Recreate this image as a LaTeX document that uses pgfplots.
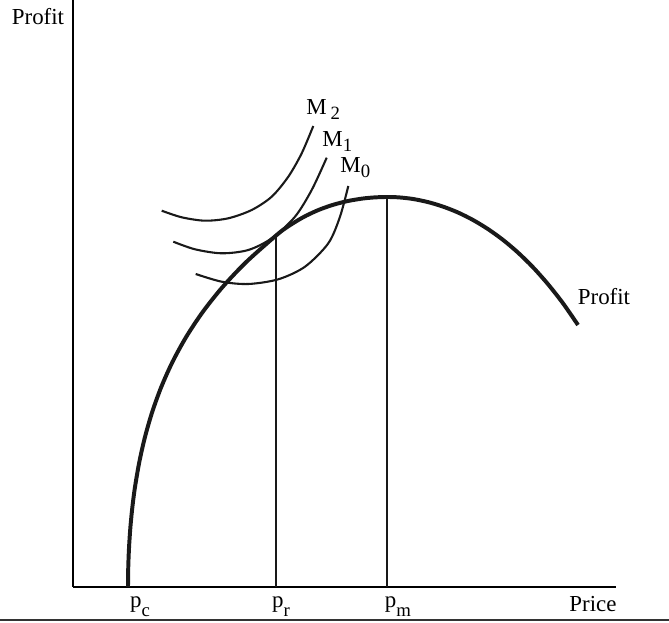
\documentclass[border=0pt]{standalone}
\usepackage{pgfplots}
\pgfplotsset{compat=1.18}
\usepackage{fontspec}
\setmainfont{Liberation Serif}
\begin{document}
\begin{tikzpicture}[x=0.48pt,y=0.48pt]
\useasboundingbox (0,0) rectangle (669,623);
\draw[line width=0.6pt, black!80] (0,3) -- (669,3);
\begin{axis}[
  at={(73,36)}, anchor=south west,
  x=0.48pt, y=0.48pt, scale only axis,
  xmin=0, xmax=543, ymin=0, ymax=587,
  enlargelimits=false, clip=false,
  axis lines=left, axis line style={-, line width=1.4pt},
  xtick=\empty, ytick=\empty,
  font=\fontsize{11}{13}\selectfont,
]
% Profit curve
\addplot[smooth, line width=1.9pt, black!90, line join=round] coordinates {
(55,0) (55.26,20) (56.06,40) (57.42,60) (59.38,80) (62,100) (66.32,125)
(71.98,150) (79.21,175) (88.26,200) (99.46,225) (113.15,250) (129.72,275)
(149.6,300) (173.27,325) (203.68,352) (215,360.5) (230,369.65) (245,376.8)
(260,382.15) (275,386) (290,388.5) (302,389.6) (314,390) (326,389.6)
(340,388) (355,384.9) (370,380.4) (385,374.5) (400,367) (415,357.9)
(430,347.1) (445,334.4) (460,319.7) (475,302.8) (490,283.7) (505,262)};
% M2
\addplot[smooth, line width=1pt, black!90] coordinates {
(88.7,376.3) (108.7,369.7) (132,366.3) (155.3,368.7) (178.7,377) (198.7,390.3)
(215.3,410.3) (228.7,433.7) (240.3,461)};
% M1
\addplot[smooth, line width=1pt, black!90] coordinates {
(100.3,345.3) (122,337.7) (148.7,333.7) (175.3,337) (198.7,348.7) (222,370.3)
(238.7,397) (253.7,429.3)};
% M0
\addplot[smooth, line width=1pt, black!90] coordinates {
(122.7,313) (148.7,305.3) (175.3,303) (205.3,307.7) (232,320.3) (255.3,343.7)
(267,370.3) (275.3,401)};
% vertical lines
\addplot[line width=0.9pt, black!90] coordinates {(203,0) (203,352)};
\addplot[line width=0.9pt, black!90] coordinates {(314,0) (314,390)};
% labels
\node at (axis cs:-35,570) {Profit};
\node at (axis cs:531,290) {Profit};
\node[anchor=base] at (axis cs:520,-25) {Price};
\node[anchor=base] at (axis cs:67,-21) {p\raisebox{-0.8ex}{\small c}};
\node[anchor=base] at (axis cs:208,-21) {p\raisebox{-0.8ex}{\small r}};
\node[anchor=base] at (axis cs:325,-21) {p\raisebox{-0.8ex}{\small m}};
\node[anchor=base west, inner sep=0pt] at (axis cs:233,472) {M\,\raisebox{-0.4ex}{\small 2}};
\node[anchor=base west, inner sep=0pt] at (axis cs:249,440) {M\raisebox{-0.4ex}{\small 1}};
\node[anchor=base west, inner sep=0pt] at (axis cs:267,414) {M\raisebox{-0.4ex}{\small 0}};
\end{axis}
\end{tikzpicture}
\end{document}
